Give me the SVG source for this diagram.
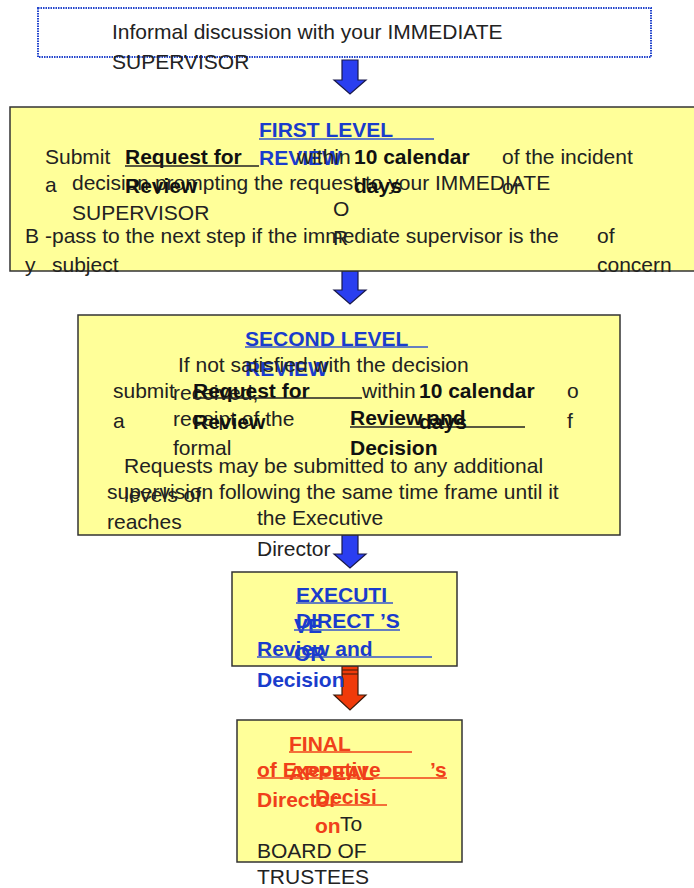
<svg xmlns="http://www.w3.org/2000/svg" width="694" height="888" viewBox="0 0 694 888">
<style>
text{font-family:"Liberation Sans",Arial,Helvetica,sans-serif;font-size:21px;fill:#222}
.b{font-weight:bold;fill:#111}
.bl{font-weight:bold;fill:#1a3ccc}
.rd{font-weight:bold;fill:#f0401a}
.box{fill:#ffff99;stroke:#333;stroke-width:1.5}
.ul{stroke:#222;stroke-width:1.3}
.ulb{stroke:#3355cc;stroke-width:1.3}
.ulr{stroke:#f0401a;stroke-width:1.3}
.arb{fill:#2a3ef0;stroke:#1a1a4a;stroke-width:1.2}
.arr{fill:#f03a0a;stroke:#3a1a0a;stroke-width:1.2}
</style>
<rect width="694" height="888" fill="#fff"/>
<g id="connectors">
<path class="arb" d="M342,60 H358 V80 H366 L350,94 L334,80 H342 Z"/>
<path class="arb" d="M342,271 H358 V290 H366 L350,304 L334,290 H342 Z"/>
<path class="arb" d="M342,535 H358 V554 H366 L350,568 L334,554 H342 Z"/>
<path class="arr" d="M342,666 H358 V695 H366 L350,710 L334,695 H342 Z"/>
<line x1="342" y1="670" x2="358" y2="670" stroke="#3a1a0a" stroke-width="1"/>
<line x1="342" y1="674" x2="358" y2="674" stroke="#3a1a0a" stroke-width="1"/>
</g>
<g id="informal">
<rect x="38" y="8" width="613" height="49" fill="none" stroke="#2244cc" stroke-width="2" stroke-dasharray="1.5,1"/>
<text x="112" y="39">Informal discussion with your IMMEDIATE</text>
<text x="112" y="69">SUPERVISOR</text>
</g>
<g id="first-level">
<rect class="box" x="10" y="107" width="700" height="164"/>
<text class="bl" x="259" y="137">FIRST LEVEL</text>
<line class="ulb" x1="259" y1="139" x2="434" y2="139"/>
<text class="bl" x="259" y="165">REVIEW</text>
<text x="45" y="164">Submit</text>
<text class="b" x="125" y="164">Request for</text>
<line class="ul" x1="125" y1="166" x2="259" y2="166"/>
<text x="297" y="164">within</text>
<text class="b" x="354" y="164">10 calendar</text>
<text x="502" y="164">of the incident</text>
<text x="45" y="192">a</text>
<text x="72" y="190">decision prompting the request to your IMMEDIATE</text>
<text class="b" x="125" y="193">Review</text>
<text class="b" x="354" y="193">days</text>
<text x="502" y="194">or</text>
<text x="72" y="220">SUPERVISOR</text>
<text x="333" y="216">O</text>
<text x="333" y="245">R</text>
<text x="25" y="243">B</text>
<text x="45" y="243">-pass to the next step if the immediate supervisor is the</text>
<text x="597" y="243">of</text>
<text x="25" y="272">y</text>
<text x="52" y="272">subject</text>
<text x="597" y="272">concern</text>
</g>
<g id="second-level">
<rect class="box" x="78" y="315" width="542" height="220"/>
<text class="bl" x="245" y="346">SECOND LEVEL</text>
<line class="ulb" x1="245" y1="347" x2="428" y2="347"/>
<text class="bl" x="245" y="376">REVIEW</text>
<text x="178" y="372">If not satisfied with the decision</text>
<text x="173" y="400">received,</text>
<text x="113" y="398">submit</text>
<text class="b" x="193" y="398">Request for</text>
<line class="ul" x1="193" y1="398" x2="362" y2="398"/>
<text x="362" y="398">within</text>
<text class="b" x="419" y="398">10 calendar</text>
<text x="567" y="398">o</text>
<text x="113" y="428">a</text>
<text x="173" y="426">receipt of the</text>
<text class="b" x="193" y="429">Review</text>
<text class="b" x="350" y="425">Review and</text>
<line class="ul" x1="350" y1="427" x2="525" y2="427"/>
<text class="b" x="419" y="429">days</text>
<text x="567" y="428">f</text>
<text x="173" y="455">formal</text>
<text class="b" x="350" y="455">Decision</text>
<text x="124" y="473">Requests may be submitted to any additional</text>
<text x="107" y="499">supervision following the same time frame until it</text>
<text x="124" y="502">levels of</text>
<text x="107" y="529">reaches</text>
<text x="257" y="525">the Executive</text>
<text x="257" y="556">Director</text>
</g>
<g id="executive">
<rect class="box" x="232" y="572" width="225" height="94"/>
<text class="bl" x="296" y="602">EXECUTI</text>
<line class="ulb" x1="296" y1="603" x2="393" y2="603"/>
<text class="bl" x="294" y="633">VE</text>
<text class="bl" x="296" y="628">DIRECT</text>
<text class="bl" x="380" y="628">’S</text>
<line class="ulb" x1="294" y1="630" x2="400" y2="630"/>
<text class="bl" x="257" y="656">Review and</text>
<line class="ulb" x1="257" y1="657" x2="432" y2="657"/>
<text class="bl" x="294" y="661">OR</text>
<text class="bl" x="257" y="687">Decision</text>
</g>
<g id="final-appeal">
<rect class="box" x="237" y="720" width="225" height="142"/>
<text class="rd" x="289" y="751">FINAL</text>
<line class="ulr" x1="289" y1="752" x2="412" y2="752"/>
<text class="rd" x="289" y="780">APPEAL</text>
<text class="rd" x="257" y="777">of Executive</text>
<text class="rd" x="430" y="777">’s</text>
<line class="ulr" x1="257" y1="778" x2="447" y2="778"/>
<text class="rd" x="257" y="807">Director</text>
<text class="rd" x="315" y="804">Decisi</text>
<line class="ulr" x1="315" y1="805" x2="387" y2="805"/>
<text class="rd" x="315" y="833">on</text>
<text x="340" y="831">To</text>
<text x="257" y="858">BOARD OF</text>
<text x="257" y="884">TRUSTEES</text>
</g>
</svg>
